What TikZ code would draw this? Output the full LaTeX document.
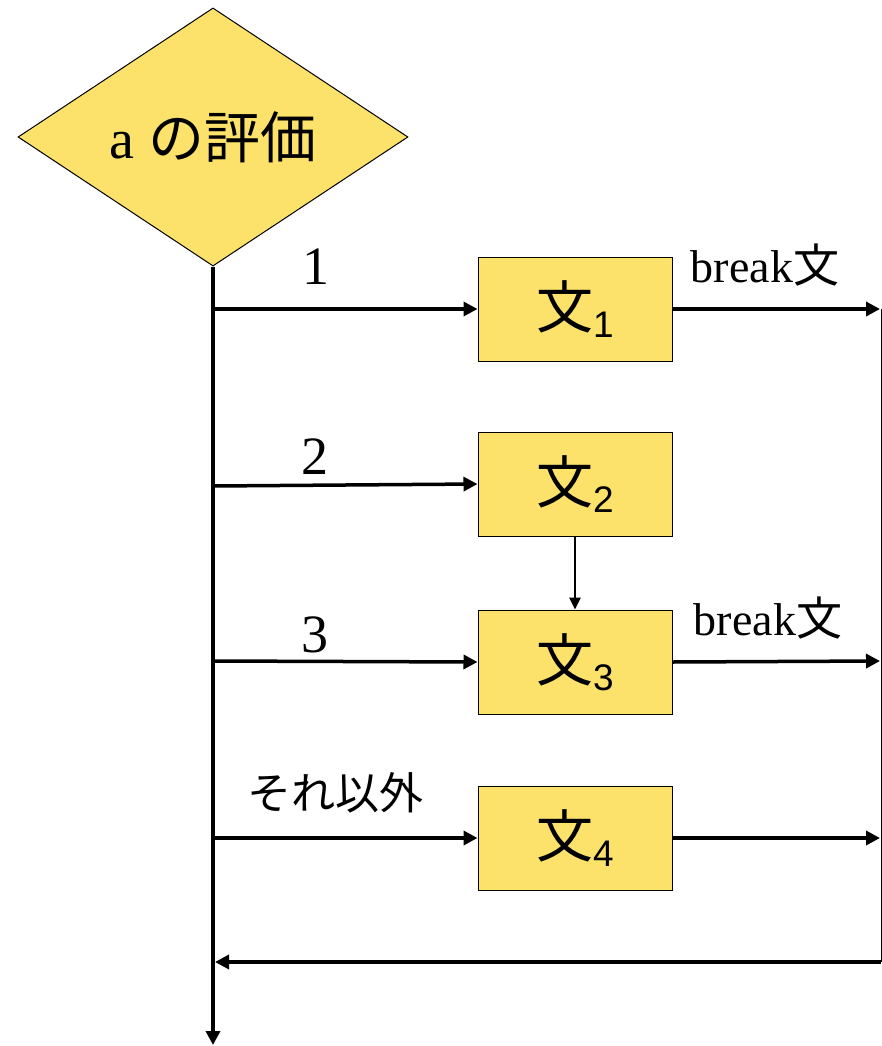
\documentclass[tikz,border=0pt]{standalone}
\usepackage{fontspec}
\setmainfont{Liberation Serif}
\newfontfamily\jpfont{Noto Sans CJK JP}
\newfontfamily\subfont{Liberation Sans}
\usetikzlibrary{shapes.geometric,arrows.meta}
\definecolor{flowyellow}{RGB}{252,226,106}
\newcommand{\stmtlabel}[1]{{\jpfont 文}\raisebox{-9pt}{\fontsize{37}{37}\selectfont\subfont #1}}

\begin{document}
\begin{tikzpicture}[
    x=1pt, y=-1pt,
    decision/.style={diamond, draw, line width=1pt, fill=flowyellow, minimum width=390pt, minimum height=258pt, inner sep=0pt, font=\fontsize{56}{60}\selectfont},
    stmt/.style={rectangle, draw, line width=1pt, fill=flowyellow, minimum width=194pt, minimum height=104pt, inner sep=0pt, font=\fontsize{57}{60}\selectfont},
    flow/.style={line width=3.5pt, -{Triangle[length=14pt,width=14pt]}},
    caselabel/.style={font=\fontsize{54}{60}\selectfont\rmfamily, inner sep=0pt},
    breaklabel/.style={font=\fontsize{46}{50}\selectfont\rmfamily, inner sep=0pt}
  ]
    \useasboundingbox (0,0) rectangle (882,1046);

    % Decision and statements
    \node[decision] (eval) at (213,137) {a {\jpfont の評価}};
    \node[stmt] (s1) at (575,309) {\stmtlabel{1}};
    \node[stmt] (s2) at (575,484) {\stmtlabel{2}};
    \node[stmt] (s3) at (575,662) {\stmtlabel{3}};
    \node[stmt] (s4) at (575,838) {\stmtlabel{4}};

    % Branch and join points
    \coordinate (b1) at (213,309);
    \coordinate (b2) at (213,486);
    \coordinate (b3) at (213,661);
    \coordinate (b4) at (213,838);
    \coordinate (r1) at (880,309);
    \coordinate (r3) at (880,661);
    \coordinate (r4) at (880,838);
    \coordinate (rb) at (881,962);
    \coordinate (lb) at (215,962);
    \coordinate (out) at (213,1045);

    % Main line
    \draw[flow] (eval.south) -- (out);

    % Branches
    \draw[flow] (b1) -- (s1.west);
    \draw[flow] (b2) -- (s2.west);
    \draw[flow] (b3) -- (s3.west);
    \draw[flow] (b4) -- (s4.west);
    \draw[line width=2.5pt, -{Triangle[length=12pt,width=11pt]}] (s2.south) -- (s3.north);

    % Exits
    \draw[flow] (s1.east) -- (r1);
    \draw[flow] (s3.east) -- (r3);
    \draw[flow] (s4.east) -- (r4);
    \draw[line width=1pt] (881,309) -- (rb);
    \draw[flow] (rb) -- (lb);

    % Labels
    \node[caselabel] (c1) at (316,267) {1};
    \node[caselabel] (c2) at (315,457) {2};
    \node[caselabel] (c3) at (315,635) {3};
    \node[font=\fontsize{44}{50}\selectfont\jpfont, inner sep=0pt] (c4) at (335,793) {それ以外};
    \node[breaklabel] (k1) at (765,265) {break{\jpfont 文}};
    \node[breaklabel] (k3) at (768,618) {break{\jpfont 文}};
  \end{tikzpicture}
\end{document}
